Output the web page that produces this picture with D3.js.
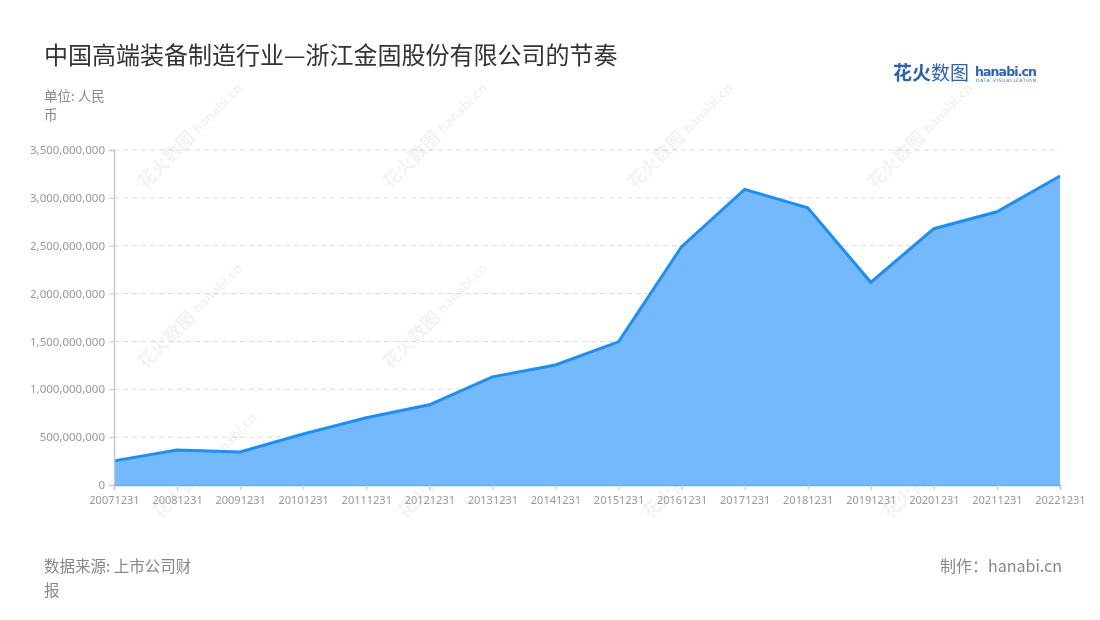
<!DOCTYPE html>
<html><head><meta charset="utf-8">
<script src="https://cdn.jsdelivr.net/npm/d3@7"></script>
<style>
body{margin:0;background:#fff;font-family:"Noto Sans CJK SC","Noto Sans",sans-serif;}
</style></head>
<body><svg id="c" width="1100" height="620"></svg>
<script>
const categories = ["20071231","20081231","20091231","20101231","20111231","20121231","20131231","20141231","20151231","20161231","20171231","20181231","20191231","20201231","20211231","20221231"];
const values = [252000000,366000000,345000000,533000000,702000000,838000000,1130000000,1254000000,1496000000,2490000000,3089000000,2897000000,2118000000,2678000000,2855000000,3228000000];
const yTicks = [0,500000000,1000000000,1500000000,2000000000,2500000000,3000000000,3500000000];

const svg = d3.select("#c");
const m = {l:114, r:1060, t:150, b:485};
const x = d3.scalePoint().domain(categories).range([m.l, m.r]);
const y = d3.scaleLinear().domain([0,3500000000]).range([m.b, m.t]);
const fmt = d3.format(",");

// grid
svg.append("g").selectAll("line").data(yTicks.slice(1)).join("line")
  .attr("x1", m.l).attr("x2", m.r).attr("y1", d=>y(d)).attr("y2", d=>y(d))
  .attr("stroke","#dcdcdc").attr("stroke-dasharray","5,4");

// watermarks
const wm = svg.append("g").attr("opacity",0.09).attr("fill","#777");
[[170,165],[170,345],[185,495],[415,165],[415,345],[430,495],[660,165],[660,345],[675,495],[900,165],[900,345],[915,495]].forEach(([cx,cy])=>{
  const g = wm.append("g").attr("transform",`translate(${cx},${cy}) rotate(-45)`);
  g.append("text").attr("x",-35).attr("y",0).attr("font-size",18).attr("font-weight","bold").text("花火数图");
  g.append("text").attr("x",42).attr("y",-2).attr("font-size",13).attr("font-weight","bold").text("hanabi.cn");
});

// area + line
const area = d3.area().x((d,i)=>x(categories[i])).y0(y(0)).y1(d=>y(d));
const line = d3.line().x((d,i)=>x(categories[i])).y(d=>y(d));
svg.append("path").datum(values).attr("d",area).attr("fill","#74b9fc");
svg.append("path").datum(values).attr("d",line).attr("fill","none").attr("stroke","#1e8ef5").attr("stroke-width",3).attr("stroke-linejoin","miter");

// axes
const ya = svg.append("g").attr("transform",`translate(${m.l},0)`)
  .call(d3.axisLeft(y).tickValues(yTicks).tickFormat(fmt).tickSize(5).tickPadding(4));
ya.select(".domain").attr("stroke","#c8c8c8").attr("stroke-width",1.5);
ya.selectAll(".tick line").attr("stroke","#c8c8c8");
ya.selectAll("text").attr("fill","#999").attr("font-size",11.5).attr("font-family","Noto Sans");

const xa = svg.append("g").attr("transform",`translate(0,${m.b})`)
  .call(d3.axisBottom(x).tickSize(5).tickPadding(6));
xa.select(".domain").attr("stroke","#6aaef5").attr("stroke-width",1.5);
xa.selectAll(".tick line").attr("stroke","#c8c8c8");
xa.selectAll("text").attr("fill","#999").attr("font-size",11).attr("font-family","Noto Sans");

// title
svg.append("text").attr("x",44).attr("y",64).attr("font-size",24).attr("fill","#333").text("中国高端装备制造行业—浙江金固股份有限公司的节奏");
svg.append("text").attr("x",44).attr("y",101).attr("font-size",13.5).attr("fill","#888").text("单位: 人民");
svg.append("text").attr("x",44).attr("y",120).attr("font-size",13.5).attr("fill","#888").text("币");

// logo
svg.append("text").attr("x",893).attr("y",80).attr("font-size",19).attr("font-weight","bold").attr("fill","#2a62b8").text("花火");
svg.append("text").attr("x",931).attr("y",80).attr("font-size",19).attr("fill","#2a62b8").text("数图");
svg.append("text").attr("x",975).attr("y",76).attr("font-size",12.5).attr("font-weight","bold").attr("fill","#2a62b8").attr("font-family","DejaVu Sans").attr("textLength",62).text("hanabi.cn");
svg.append("text").attr("x",976).attr("y",82).attr("font-size",4.5).attr("fill","#2a62b8").attr("textLength",60).attr("font-family","DejaVu Sans").text("DATA VISUALIZATION");

// footer
svg.append("text").attr("x",44).attr("y",572).attr("font-size",15.5).attr("fill","#888").text("数据来源: 上市公司财");
svg.append("text").attr("x",44).attr("y",596).attr("font-size",15.5).attr("fill","#888").text("报");
svg.append("text").attr("x",1062).attr("y",572).attr("text-anchor","end").attr("font-size",16).attr("fill","#888").text("制作：hanabi.cn");
</script></body></html>
